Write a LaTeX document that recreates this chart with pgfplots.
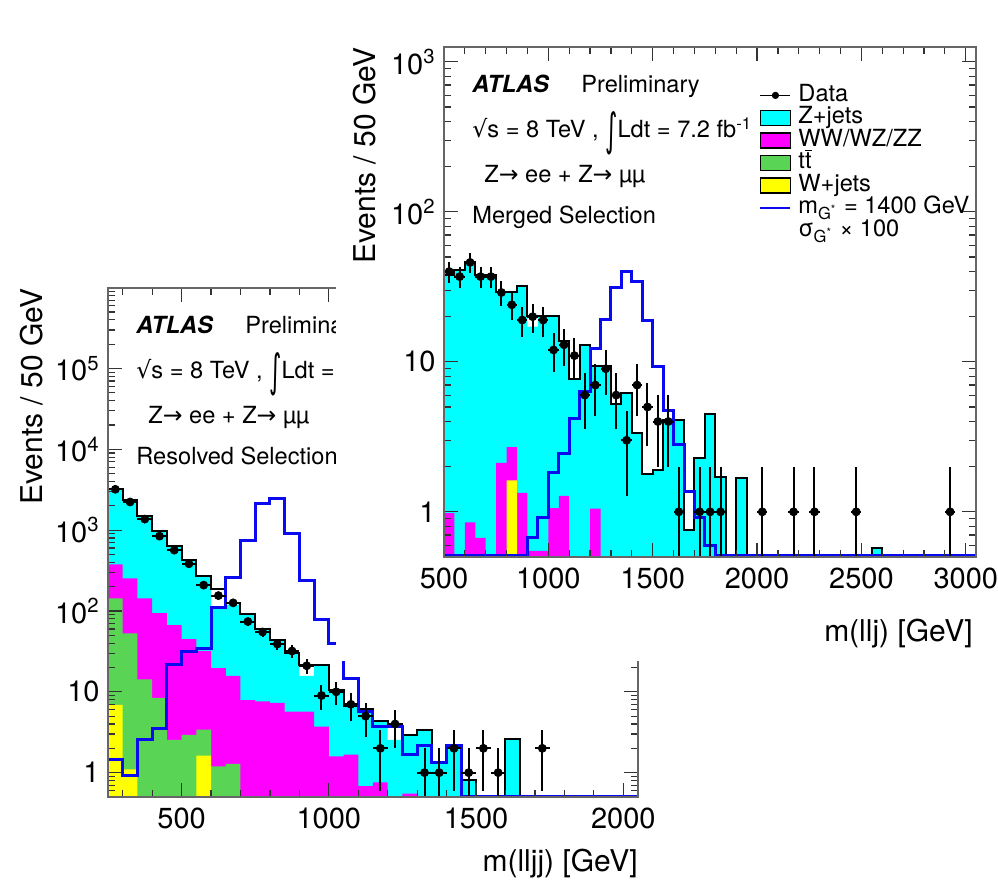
\documentclass[border=0pt]{standalone}
\usepackage{fontspec}
\setmainfont{TeX Gyre Heros}
\newfontfamily\dejavu{DejaVu Sans}
\usepackage{graphicx}
\usepackage{pgfplots}
\usepackage{pgfplotstable}
\pgfplotsset{compat=1.18}
\definecolor{rcyan}{RGB}{0,255,255}
\definecolor{rmag}{RGB}{255,0,255}
\definecolor{rgreen}{RGB}{89,212,84}
\definecolor{ryellow}{RGB}{255,255,0}
\definecolor{rblue}{RGB}{10,10,240}
\newcommand\axfont{\fontsize{14.5}{17}\selectfont}
\newcommand\titfont{\fontsize{15}{18}\selectfont}
\newcommand\txtfont{\fontsize{11.8}{14}\selectfont}
\newcommand\bigint{\raisebox{-4pt}{\scalebox{1}[1.9]{\dejavu ∫}}}

\pgfplotstableread{
x c t m g y b
250 0.1 0.1 0.1 0.1 0.1 0.1
250 3200 3200 377 143 6.9 1.45
300 2350 2350 253 53 1.1 0.92
350 1490 1490 143 14.3 0.1 2.6
400 973 973 94 8.4 0.1 3.56
450 634 634 67 2.55 0.1 21.5
500 426 426 45 2.94 0.1 31.4
550 270 270 32 3.4 1.62 34.6
600 112 187 19.6 1.2 0.1 112
650 120 125 15.7 1.28 0.1 260
700 91.8 91.8 7.9 0.1 0.1 735
750 59.4 59.4 7.6 0.1 0.1 2130
800 43.8 43.8 7.3 0.1 0.1 2460
850 30.1 30.1 5.7 0.1 0.1 910
900 15.7 21.5 5.7 0.1 0.1 240
950 21.5 21.5 3.7 0.1 0.1 79
1000 10.6 10.6 1.59 0.1 0.1 40
1050 6.6 6.6 1.67 0.1 0.1 14.7
1100 6.1 6.1 0.68 0.1 0.1 5.7
1150 4.3 4.3 0.76 0.1 0.1 3.7
1200 2.55 4.0 0.1 0.1 0.1 3.7
1250 2.94 2.94 0.55 0.1 0.1 1.67
1300 3.33 3.33 0.1 0.1 0.1 2.17
1350 1.34 1.34 0.1 0.1 0.1 1.34
1400 2.17 2.17 0.1 0.1 0.1 2.17
1450 0.82 0.82 0.1 0.1 0.1 0.51
1500 0.1 0.5 0.1 0.1 0.1 0.51
1600 2.63 2.63 0.1 0.1 0.1 0.51
1650 0.1 0.5 0.1 0.1 0.1 0.51
2050 0.1 0.1 0.1 0.1 0.1 0.1
}\lefthist

\pgfplotstableread{
x y ep em
275 3200 56.6 56.6
325 2230 47.2 47.2
375 1370 37 37
425 843 29 29
475 566 23.8 23.8
525 384 19.6 19.6
575 209 14.5 14.5
625 155 12.4 12.4
675 126 11.2 11.2
725 74 8.6 8.6
775 55 7.4 7.4
825 39 6.2 6.2
875 32 5.7 5.7
925 21 4.6 4.6
975 9 3 3
1025 10 3.16 3.16
1075 7 2.65 2.65
1125 5 2.24 2.24
1175 2 1.41 1.41
1225 4 2 2
1325 1 1 0.99
1375 1 1 0.99
1425 2 1.41 1.41
1475 1 1 0.99
1525 2 1.41 1.41
1575 1 1 0.99
1725 2 1.41 1.41
}\leftdata

\pgfplotstableread{
x c t m y b
500 0.1 0.1 0.1 0.1 0.1
500 37.8 37.8 0.98 0.1 0.51
550 41.2 41.2 0.1 0.1 0.51
600 46.4 46.4 0.85 0.1 0.51
650 37.8 37.8 0.67 0.1 0.51
700 37.8 37.8 0.1 0.1 0.51
750 29.3 29.3 2.12 0.1 0.51
800 29.3 29.3 2.7 1.62 0.51
850 32 32 1.34 0.1 0.51
900 17.2 20.1 0.55 0.1 0.67
950 20.1 20.1 0.55 0.1 0.91
1000 20.1 20.1 1.06 0.1 1.82
1050 13.7 13.7 1.28 0.1 2.44
1100 7.7 7.7 0.1 0.1 4.2
1150 12.9 12.9 0.1 0.1 6.3
1200 9.35 9.35 1.05 0.1 12.2
1250 9.35 9.35 0.1 0.1 19.3
1300 5.2 5.2 0.1 0.1 31.3
1350 6.16 6.16 0.1 0.1 39.8
1400 3.36 3.36 0.1 0.1 34.4
1450 1.8 1.8 0.1 0.1 18.9
1500 1.91 1.91 0.1 0.1 9.35
1550 4.12 4.12 0.1 0.1 4.76
1600 4.12 4.12 0.1 0.1 2.8
1650 0.76 0.76 0.1 0.1 1.37
1700 2.29 2.29 0.1 0.1 0.91
1750 4.5 4.5 0.1 0.1 0.6
1800 1.70 1.70 0.1 0.1 0.51
1850 0.1 0.5 0.1 0.1 0.51
1900 1.68 1.68 0.1 0.1 0.51
1950 0.1 0.5 0.1 0.1 0.51
2550 0.57 0.57 0.1 0.1 0.51
2600 0.1 0.5 0.1 0.1 0.51
3050 0.1 0.1 0.1 0.1 0.1
}\righthist

\pgfplotstableread{
x y ep em
525 40 6.32 6.32
575 37 6.08 6.08
625 46 6.78 6.78
675 37 6.08 6.08
725 37 6.08 6.08
775 29 5.39 5.39
825 24 4.9 4.9
875 19 4.36 4.36
925 20 4.47 4.47
975 19 4.36 4.36
1025 12 3.46 3.46
1075 13 3.61 3.61
1125 11 3.32 3.32
1175 6 2.45 2.45
1225 7 2.65 2.65
1275 9 3 3
1325 6 2.45 2.45
1375 3 1.73 1.73
1425 7 2.65 2.65
1475 5 2.24 2.24
1525 4 2 2
1575 4 2 2
1625 1 1 0.99
1725 1 1 0.99
1775 1 1 0.99
1825 1 1 0.99
2025 1 1 0.99
2175 1 1 0.99
2275 1 1 0.99
2475 1 1 0.99
2925 1 1 0.99
}\rightdata

\begin{document}
\begin{tikzpicture}
\path[use as bounding box] (0,0) rectangle (499pt,444pt);
% ---------------- left (resolved) ----------------
\begin{axis}[at={(54pt,45.5pt)}, anchor=south west,
  scale only axis, width=265pt, height=254.5pt,
  ymode=log, axis on top, clip=true,
  tick align=inside, major tick length=7pt, minor tick length=3.5pt,
  every tick/.style={black!80, line width=0.6pt},
  axis line style={black!60, line width=1pt},
  yticklabel style={anchor=east, inner sep=0pt, xshift=-4pt, font=\axfont},
  xticklabel style={anchor=north, inner sep=0pt, yshift=-5.5pt, font=\axfont},
  xmin=250, xmax=2050, ymin=0.5, ymax=9.9e5,
  xtick={500,1000,1500,2000}, xticklabels={500,1000,1500,2000},
  minor xtick={300,400,...,2000},
  ytick={1,10,100,1000,10000,100000},
  yticklabels={1,10,10\textsuperscript{2},10\textsuperscript{3},10\textsuperscript{4},10\textsuperscript{5}},
  minor ytick={0.5,0.6,0.7,0.8,0.9,2,3,4,5,6,7,8,9,20,30,40,50,60,70,80,90,200,300,400,500,600,700,800,900,2000,3000,4000,5000,6000,7000,8000,9000,20000,30000,40000,50000,60000,70000,80000,90000,200000,300000,400000,500000,600000,700000,800000,900000}]
\addplot[const plot mark left, draw=none, fill=rcyan, forget plot] table[x=x,y=c]{\lefthist};
\addplot[const plot mark left, draw=none, fill=rmag, forget plot] table[x=x,y=m]{\lefthist};
\addplot[const plot mark left, draw=none, fill=rgreen, forget plot] table[x=x,y=g]{\lefthist};
\addplot[const plot mark left, draw=none, fill=ryellow, forget plot] table[x=x,y=y]{\lefthist};
\addplot[const plot mark left, draw=black, line width=1pt, forget plot] table[x=x,y=t]{\lefthist};
\addplot[const plot mark left, draw=rblue, line width=1.5pt, forget plot] table[x=x,y=b]{\lefthist};
\addplot[only marks, mark=*, mark size=2pt, black, forget plot,
   error bars/x dir=both, error bars/x fixed=25, error bars/y dir=both, error bars/y explicit,
   error bars/error mark=none, error bars/error bar style={line width=1pt, black}]
   table[x=x,y=y,y error plus=ep,y error minus=em]{\leftdata};
\end{axis}
\begin{scope}
\clip (0pt,0pt) rectangle (168pt,444pt);
\node[anchor=base west, inner sep=0pt, font=\txtfont] at (68pt,277pt) {\textbf{\textit{ATLAS}}};
\node[anchor=base west, inner sep=0pt, font=\txtfont] at (122.5pt,277pt) {Prelimina};
\node[anchor=base west, inner sep=0pt, font=\txtfont] at (68pt,254.5pt) {{\dejavu √}s = 8 TeV , \bigint Ldt =};
\node[anchor=base west, inner sep=0pt, font=\txtfont] at (74pt,232pt) {Z{\dejavu→} ee + Z{\dejavu→} µµ};
\node[anchor=base west, inner sep=0pt, font=\txtfont] at (68pt,211.5pt) {Resolved Selection};
\end{scope}
\node[anchor=base east, inner sep=0pt, font=\titfont] at (319pt,8pt) {m(lljj) [GeV]};
\node[anchor=east, rotate=90, inner sep=0pt, font=\titfont] at (16pt,300pt) {Events / 50 GeV};
% ---------------- cover (second pad) ----------------
\fill[white] (168pt,113.5pt) rectangle (499pt,444pt);
% ---------------- right (merged) ----------------
\begin{axis}[at={(222pt,165.5pt)}, anchor=south west,
  scale only axis, width=266.1pt, height=255pt,
  ymode=log, axis on top, clip=true,
  tick align=inside, major tick length=7pt, minor tick length=3.5pt,
  every tick/.style={black!80, line width=0.6pt},
  axis line style={black!60, line width=1pt},
  yticklabel style={anchor=east, inner sep=0pt, xshift=-4pt, font=\axfont},
  xticklabel style={anchor=north, inner sep=0pt, yshift=-5.5pt, font=\axfont},
  xmin=500, xmax=3050, ymin=0.5, ymax=1256,
  xtick={500,1000,1500,2000,2500,3000}, xticklabels={500,1000,1500,2000,2500,3000},
  minor xtick={600,700,...,3000},
  ytick={1,10,100,1000},
  yticklabels={1,10,10\textsuperscript{2},10\textsuperscript{3}},
  minor ytick={0.5,0.6,0.7,0.8,0.9,2,3,4,5,6,7,8,9,20,30,40,50,60,70,80,90,200,300,400,500,600,700,800,900},
  legend style={at={(0.592,0.928)}, anchor=north west, draw=none, fill=none,
    inner sep=0pt, font=\txtfont, row sep=0pt,
    nodes={inner sep=0pt, text height=8.5pt, text depth=2.77pt},
    /tikz/every odd column/.append style={column sep=3.5pt}},
  legend cell align=left]
\addplot[const plot mark left, draw=none, fill=rcyan, forget plot] table[x=x,y=c]{\righthist};
\addplot[const plot mark left, draw=none, fill=rmag, forget plot] table[x=x,y=m]{\righthist};
\addplot[const plot mark left, draw=none, fill=ryellow, forget plot] table[x=x,y=y]{\righthist};
\addplot[const plot mark left, draw=black, line width=1pt, forget plot] table[x=x,y=t]{\righthist};
\addplot[const plot mark left, draw=rblue, line width=1.5pt, forget plot] table[x=x,y=b]{\righthist};
\addplot[only marks, mark=*, mark size=2pt, black, forget plot,
   error bars/x dir=both, error bars/x fixed=25, error bars/y dir=both, error bars/y explicit,
   error bars/error mark=none, error bars/error bar style={line width=1pt, black}]
   table[x=x,y=y,y error plus=ep,y error minus=em]{\rightdata};
\addlegendimage{legend image code/.code={\draw[black, line width=0.6pt] (0pt,0pt)--(15pt,0pt); \fill[black] (7.5pt,0pt) circle (1.6pt);}}
\addlegendentry{Data}
\addlegendimage{legend image code/.code={\draw[fill=rcyan, draw=black, line width=0.8pt] (0pt,-3.75pt) rectangle (15pt,3.75pt);}}
\addlegendentry{Z+jets}
\addlegendimage{legend image code/.code={\draw[fill=rmag, draw=black, line width=0.8pt] (0pt,-3.75pt) rectangle (15pt,3.75pt);}}
\addlegendentry{WW/WZ/ZZ}
\addlegendimage{legend image code/.code={\draw[fill=rgreen, draw=black, line width=0.8pt] (0pt,-3.75pt) rectangle (15pt,3.75pt);}}
\addlegendentry{t$\overline{\mbox{t}}$}
\addlegendimage{legend image code/.code={\draw[fill=ryellow, draw=black, line width=0.8pt] (0pt,-3.75pt) rectangle (15pt,3.75pt);}}
\addlegendentry{W+jets}
\addlegendimage{legend image code/.code={\draw[rblue, line width=1pt] (0pt,0pt)--(15pt,0pt);}}
\addlegendentry{m\textsubscript{G\textsuperscript{*}} = 1400 GeV}
\addlegendimage{empty legend}
\addlegendentry{σ\textsubscript{G\textsuperscript{*}} × 100}
\end{axis}
\node[anchor=base west, inner sep=0pt, font=\txtfont] at (236pt,397.5pt) {\textbf{\textit{ATLAS}}};
\node[anchor=base west, inner sep=0pt, font=\txtfont] at (290.5pt,397.5pt) {Preliminary};
\node[anchor=base west, inner sep=0pt, font=\txtfont] at (236pt,375pt) {{\dejavu √}s = 8 TeV , \bigint Ldt = 7.2 fb\textsuperscript{-1}};
\node[anchor=base west, inner sep=0pt, font=\txtfont] at (242pt,352.5pt) {Z{\dejavu→} ee + Z{\dejavu→} µµ};
\node[anchor=base west, inner sep=0pt, font=\txtfont] at (236pt,332pt) {Merged Selection};
\node[anchor=base east, inner sep=0pt, font=\titfont] at (486.5pt,123pt) {m(llj) [GeV]};
\node[anchor=east, rotate=90, inner sep=0pt, font=\titfont] at (182.5pt,420.5pt) {Events / 50 GeV};
\end{tikzpicture}
\end{document}
